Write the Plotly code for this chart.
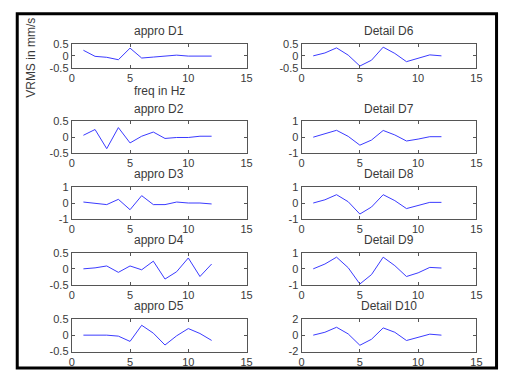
import plotly.graph_objects as go

W, H = 505, 376
freq = [1, 2, 3, 4, 5, 6, 7, 8, 9, 10, 11, 12]

appro_d1 = [0.23, -0.02, -0.06, -0.16, 0.32, -0.09, -0.05, -0.02, 0.03, -0.01, -0.01, -0.01]
appro_d2 = [0.06, 0.24, -0.36, 0.30, -0.18, 0.03, 0.16, -0.04, -0.01, -0.01, 0.03, 0.03]
appro_d3 = [0.06, -0.04, -0.10, 0.23, -0.42, 0.46, -0.10, -0.10, 0.06, 0.00, 0.00, -0.06]
appro_d4 = [0.00, 0.03, 0.09, -0.11, 0.09, -0.03, 0.24, -0.32, -0.09, 0.34, -0.24, 0.15]
appro_d5 = [0.00, 0.00, 0.00, -0.03, -0.19, 0.30, 0.06, -0.30, -0.02, 0.20, 0.05, -0.16]

detail_d6 = [0.00, 0.12, 0.33, 0.03, -0.42, -0.18, 0.36, 0.10, -0.24, -0.11, 0.04, 0.00]
detail_d7 = [0.00, 0.20, 0.43, 0.05, -0.50, -0.18, 0.42, 0.14, -0.24, -0.12, 0.03, 0.03]
detail_d8 = [0.00, 0.20, 0.52, 0.08, -0.69, -0.25, 0.52, 0.15, -0.35, -0.17, 0.04, 0.04]
detail_d9 = [0.00, 0.30, 0.73, 0.07, -0.95, -0.36, 0.73, 0.20, -0.48, -0.25, 0.09, 0.05]
detail_d10 = [0.00, 0.35, 0.96, 0.15, -1.23, -0.50, 0.88, 0.35, -0.65, -0.31, 0.12, 0.00]

titles_left = ["appro D1", "appro D2", "appro D3", "appro D4", "appro D5"]
titles_right = ["Detail D6", "Detail D7", "Detail D8", "Detail D9", "Detail D10"]
series_left = [appro_d1, appro_d2, appro_d3, appro_d4, appro_d5]
series_right = [detail_d6, detail_d7, detail_d8, detail_d9, detail_d10]
ylim_left = [0.5, 0.5, 1, 0.5, 0.5]
ylim_right = [0.5, 1, 1, 1, 2]
x_ticks = [0, 5, 10, 15]

# pixel geometry
col_x = [(70, 248), (304, 482)]
row_y = [(39, 64), (119, 152), (187, 220), (255, 288), (323, 357)]

tick_font = dict(family="Liberation Sans, Arial, sans-serif", size=11, color="#3a3a3a")
text_font = dict(family="Liberation Sans, Arial, sans-serif", size=12, color="#3a3a3a")
fig = go.Figure()
layout = dict(width=W, height=H, margin=dict(l=0, r=0, t=0, b=0),
              paper_bgcolor="white", plot_bgcolor="white", showlegend=False,
              font=tick_font)
annotations = []
idx = 0
for c in range(2):
    for r in range(5):
        idx += 1
        xa = "x" if idx == 1 else f"x{idx}"
        ya = "y" if idx == 1 else f"y{idx}"
        xkey = "xaxis" if idx == 1 else f"xaxis{idx}"
        ykey = "yaxis" if idx == 1 else f"yaxis{idx}"
        data = series_left[r] if c == 0 else series_right[r]
        lim = ylim_left[r] if c == 0 else ylim_right[r]
        title = titles_left[r] if c == 0 else titles_right[r]
        fig.add_trace(go.Scatter(x=freq, y=data, mode="lines", xaxis=xa, yaxis=ya,
                                 line=dict(color="#3b3bff", width=1)))
        x0, x1 = col_x[c]
        y0, y1 = row_y[r]
        common = dict(showline=True, linecolor="#555555", linewidth=1, mirror="ticks",
                      ticks="inside", ticklen=3, tickcolor="#555555", showgrid=False,
                      zeroline=False, tickfont=tick_font)
        layout[xkey] = dict(domain=[x0 / W, x1 / W], range=[0, 15], anchor=ya,
                            tickvals=x_ticks, ticktext=[str(v) for v in x_ticks], **common)
        ticks_y = [-lim, 0, lim]
        layout[ykey] = dict(domain=[1 - y1 / H, 1 - y0 / H], range=[-lim, lim], anchor=xa,
                            tickvals=ticks_y, ticktext=[f"{v:g}" for v in ticks_y], **common)
        annotations.append(dict(text=title, x=(x0 + x1) / 2 / W, y=1 - (y0 - 13) / H,
                                xref="paper", yref="paper", showarrow=False,
                                xanchor="center", yanchor="middle", font=text_font))

annotations.append(dict(text="freq in Hz", x=159 / W, y=1 - 88 / H, xref="paper", yref="paper",
                        showarrow=False, xanchor="center", yanchor="middle", font=text_font))
annotations.append(dict(text="VRMS in mm/s", x=29 / W, y=1 - 53 / H, xref="paper", yref="paper",
                        showarrow=False, xanchor="center", yanchor="middle", textangle=-90,
                        font=text_font))
layout["annotations"] = annotations
layout["shapes"] = [dict(type="rect", xref="paper", yref="paper",
                         x0=14.5 / W, x1=502.5 / W, y0=1 - 374 / H, y1=1 - 8 / H,
                         line=dict(color="black", width=3))]
fig.update_layout(**layout)
fig.write_html("out.html", config={"displayModeBar": False},
               post_script="document.body.style.margin='0';document.body.style.padding='0';"
                           "document.body.style.overflow='hidden';")
